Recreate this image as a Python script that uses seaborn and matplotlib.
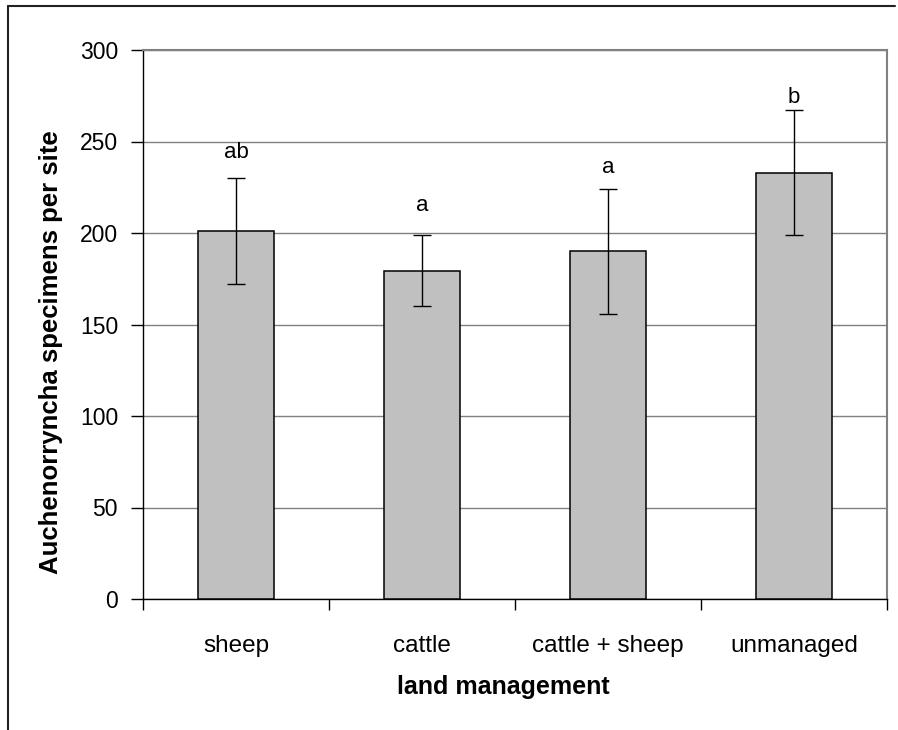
import matplotlib
matplotlib.use("Agg")
import matplotlib.pyplot as plt
from matplotlib.lines import Line2D
import seaborn as sns
import pandas as pd

# Mean Auchenorrhyncha catch per site for each land-management type
categories = ["sheep", "cattle", "cattle + sheep", "unmanaged"]
means = [201, 179.5, 190, 233]
errors = [29, 19.5, 34, 34]
letters = ["ab", "a", "a", "b"]
letter_y = [244, 215, 236, 274]

sns.set_theme(style="white")
plt.rcParams["font.family"] = ["Liberation Sans", "DejaVu Sans"]
plt.rcParams.update({"text.color": "black", "axes.labelcolor": "black",
                     "xtick.color": "black", "ytick.color": "black"})

fig = plt.figure(figsize=(8.98, 7.30), dpi=100)
ax = fig.add_axes([143 / 898, 1 - 599 / 730, (887 - 143) / 898, (599 - 50) / 730])

df = pd.DataFrame({"management": categories, "count": means})
sns.barplot(data=df, x="management", y="count", color="#C0C0C0", saturation=1,
            width=0.41, edgecolor="black", linewidth=1.1, errorbar=None, ax=ax, zorder=3)

ax.errorbar(range(len(categories)), means, yerr=errors, fmt="none", ecolor="black",
            elinewidth=1.0, capsize=6.5, capthick=1.0, zorder=4)

for i, (lab, yy) in enumerate(zip(letters, letter_y)):
    ax.text(i, yy, lab, ha="center", va="center", fontsize=16, color="black", zorder=5)

ax.set_ylim(0, 300)
ax.set_xlim(-0.5, len(categories) - 0.5)
ax.set_yticks(range(0, 301, 50))
ax.yaxis.grid(True, color="#808080", linewidth=1.0, zorder=0)
ax.set_axisbelow(True)

# category labels sit between boundary ticks
ax.set_xticks([i - 0.5 for i in range(len(categories) + 1)])
ax.set_xticklabels([""] * (len(categories) + 1))
ax.set_xticks(range(len(categories)), minor=True)
ax.set_xticklabels(categories, minor=True, fontsize=17.5)
ax.tick_params(axis="x", which="minor", length=0, pad=26)
ax.tick_params(axis="x", which="major", direction="out", length=8, width=1, color="black")
ax.tick_params(axis="y", direction="out", length=9, width=1, color="black",
               labelsize=16.5, pad=9)
ax.tick_params(axis="both", bottom=True, left=True)

for side in ["left", "bottom"]:
    ax.spines[side].set_color("black")
    ax.spines[side].set_linewidth(1.0)
for side in ["top", "right"]:
    ax.spines[side].set_visible(True)
    ax.spines[side].set_color("#808080")
    ax.spines[side].set_linewidth(1.5)

ax.set_xlabel("land management", fontsize=18, fontweight="bold", labelpad=13)
ax.xaxis.set_label_coords(0.4845, -0.138)
ax.set_ylabel("Auchenorryncha specimens per site", fontsize=18.5, fontweight="bold")
ax.yaxis.set_label_coords(-0.107, 0.45)

# outer chart frame
fig.add_artist(Line2D([8 / 898, 8 / 898], [0, 1 - 6 / 730], transform=fig.transFigure,
                      color="#222222", linewidth=1.5))
fig.add_artist(Line2D([8 / 898, 895 / 898], [1 - 6 / 730, 1 - 6 / 730], transform=fig.transFigure,
                      color="#222222", linewidth=1.5))

fig.savefig("out.png", dpi=100)
